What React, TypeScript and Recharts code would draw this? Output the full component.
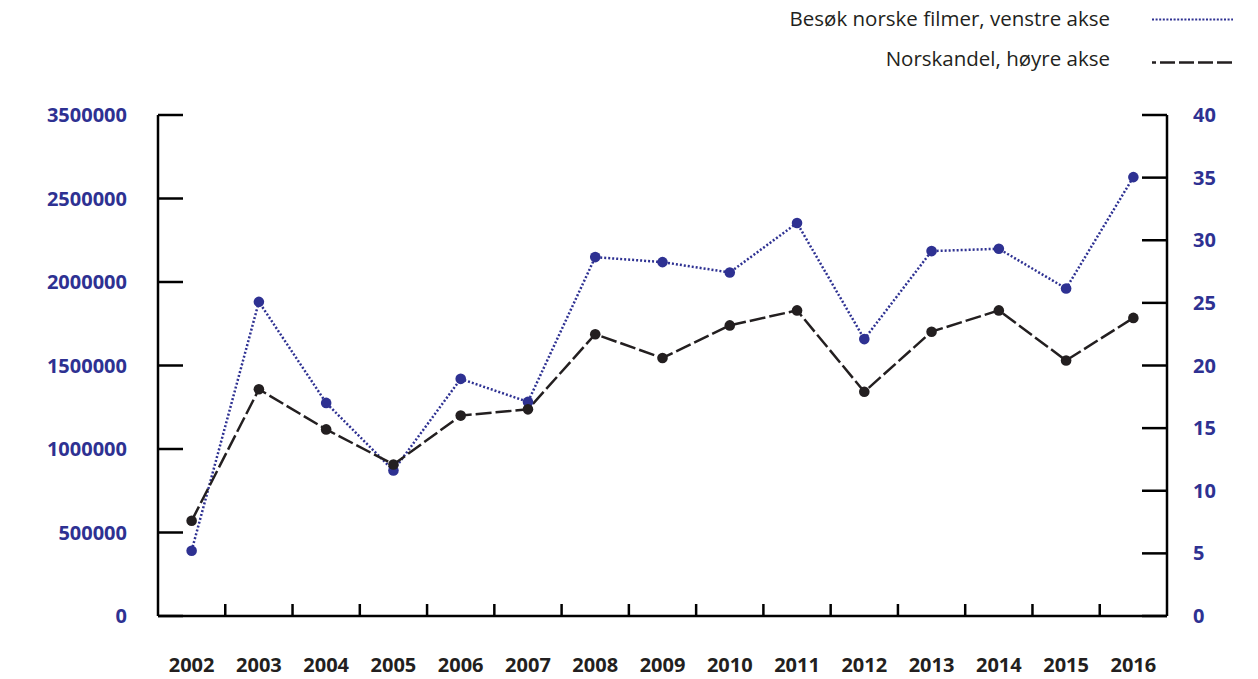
import React from 'react';
import { LineChart, Line, XAxis, YAxis, Legend } from 'recharts';

const years = [2002, 2003, 2004, 2005, 2006, 2007, 2008, 2009, 2010, 2011, 2012, 2013, 2014, 2015, 2016];
const besok = [391000, 1881000, 1276000, 871000, 1420000, 1282000, 2149000, 2119000, 2057000, 2353000, 1658000, 2185000, 2199000, 1961000, 2628000];
const norskandel = [7.6, 18.1, 14.9, 12.1, 16.0, 16.5, 22.5, 20.6, 23.2, 24.4, 17.9, 22.7, 24.4, 20.4, 23.8];

const leftTicks = [0, 500000, 1000000, 1500000, 2000000, 2500000, 3000000];
const leftTickLabels = ['0', '500000', '1000000', '1500000', '2000000', '2500000', '3500000'];
const rightTicks = [0, 5, 10, 15, 20, 25, 30, 35, 40];
const seriesNames = ['Besøk norske filmer, venstre akse', 'Norskandel, høyre akse'];

const BLUE = '#2e3192';
const DARK = '#231f20';
const FONT = '"Open Sans", "Liberation Sans", sans-serif';

const data = years.map((year, i) => ({ year, besok: besok[i], norskandel: norskandel[i] }));
const xTicks: number[] = [];
years.forEach((y, i) => {
  xTicks.push(y);
  if (i < years.length - 1) xTicks.push(y + 0.5);
});

const X_TICK_MARGIN = 42;

const XTick = (props: any) => {
  const { x, y, payload } = props;
  const v = payload.value as number;
  if (Number.isInteger(v)) {
    return (
      <text x={x} y={y} dy="0.71em" textAnchor="middle" fill={DARK} fontSize={20} fontWeight={700} fontFamily={FONT}>
        {String(v)}
      </text>
    );
  }
  const axisY = y - X_TICK_MARGIN;
  return <line x1={x} x2={x} y1={axisY} y2={axisY - 12} stroke="#000" strokeWidth={2.5} />;
};

const LegendContent = (props: any) => {
  const payload = props.payload || [];
  const textY = [26, 66];
  const lineY = [19.5, 62.5];
  const legendDash = ['2 1.6', '15 4'];
  const legendWidth = [2, 2.5];
  return (
    <svg width={1258} height={90} style={{ display: 'block' }}>
      {payload.map((entry: any, i: number) => (
        <g key={i}>
          <text x={1110} y={textY[i]} textAnchor="end" fill={DARK} fontSize={20.5} fontFamily={FONT}>
            {entry.value}
          </text>
          <line
            x1={1152}
            x2={1233}
            y1={lineY[i]}
            y2={lineY[i]}
            stroke={entry.color}
            strokeWidth={legendWidth[i]}
            strokeDasharray={legendDash[i]}
            strokeDashoffset={i === 1 ? 11 : 0}
          />
        </g>
      ))}
    </svg>
  );
};

export default function App() {
  return (
    <div style={{ position: 'absolute', left: 0, top: 0, width: 1258, height: 679, background: '#fff' }}>
      <LineChart width={1258} height={679} data={data} margin={{ top: 115, right: 0, bottom: 0, left: 0 }}>
        <XAxis
          xAxisId="x"
          dataKey="year"
          type="number"
          domain={[2001.5, 2016.5]}
          ticks={xTicks}
          interval={0}
          height={63}
          tickLine={false}
          tickSize={0}
          tickMargin={X_TICK_MARGIN}
          axisLine={{ stroke: '#000', strokeWidth: 2.5 }}
          tick={<XTick />}
        />
        <YAxis
          yAxisId="left"
          orientation="left"
          width={158}
          domain={[0, 3000000]}
          ticks={leftTicks}
          interval={0}
          tickFormatter={(v: number, i: number) => leftTickLabels[i]}
          tickSize={-25}
          tickMargin={56}
          tickLine={{ stroke: '#000', strokeWidth: 2.5 }}
          axisLine={{ stroke: '#000', strokeWidth: 2.5 }}
          tick={{ fill: BLUE, fontSize: 20, fontWeight: 700, fontFamily: FONT }}
        />
        <YAxis
          yAxisId="right"
          orientation="right"
          width={91}
          domain={[0, 40]}
          ticks={rightTicks}
          interval={0}
          tickSize={-25}
          tickMargin={51}
          tickLine={{ stroke: '#000', strokeWidth: 2.5 }}
          axisLine={{ stroke: '#000', strokeWidth: 2.5 }}
          tick={{ fill: BLUE, fontSize: 20, fontWeight: 700, fontFamily: FONT }}
        />
        <Legend
          layout="vertical"
          align="center"
          verticalAlign="middle"
          wrapperStyle={{ top: 0, left: 0, width: 1258, height: 90 }}
          content={<LegendContent />}
        />
        <Line
          xAxisId="x"
          yAxisId="left"
          dataKey="besok"
          name={seriesNames[0]}
          type="linear"
          stroke={BLUE}
          strokeWidth={2.5}
          strokeDasharray="2 2"
          dot={{ r: 5.3, fill: BLUE, stroke: 'none', strokeWidth: 0 }}
          activeDot={false}
          isAnimationActive={false}
        />
        <Line
          xAxisId="x"
          yAxisId="right"
          dataKey="norskandel"
          name={seriesNames[1]}
          type="linear"
          stroke={DARK}
          strokeWidth={2.5}
          strokeDasharray="16 4"
          dot={{ r: 5.3, fill: DARK, stroke: 'none', strokeWidth: 0 }}
          activeDot={false}
          isAnimationActive={false}
        />
      </LineChart>
    </div>
  );
}
